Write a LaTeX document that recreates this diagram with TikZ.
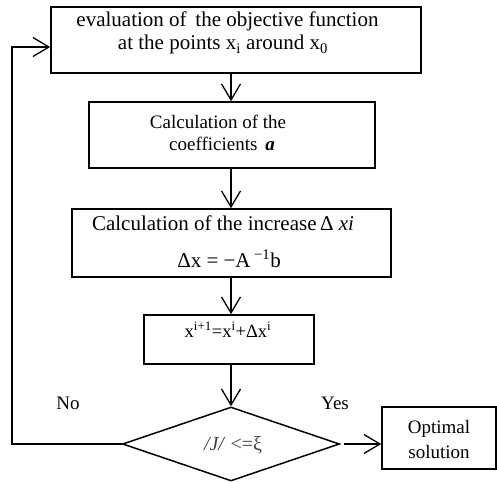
\documentclass[tikz,border=0pt]{standalone}
\usepackage{fontspec}
\setmainfont{Liberation Serif}
\usetikzlibrary{arrows.meta,shapes.geometric}
\begin{document}
\begin{tikzpicture}[x=1pt,y=-1pt,
  box/.style={draw,line width=1.6pt,rectangle,inner sep=0pt},
  arr/.style={line width=1.3pt,-{Straight Barb[length=16pt,width=19pt,line width=1.3pt]}},
  tb/.style={anchor=base,inner sep=0pt,font=\fontsize{21}{23}\selectfont},
  ts/.style={anchor=base,inner sep=0pt,font=\fontsize{19}{22}\selectfont}]
\useasboundingbox (0,0) rectangle (497,481);
% boxes
\node[box,minimum width=370pt,minimum height=66pt] (b1) at (236,40) {};
\node[box,minimum width=286pt,minimum height=66pt] (b2) at (232,135) {};
\node[box,minimum width=319pt,minimum height=68pt] (b3) at (231.5,243) {};
\node[box,minimum width=170pt,minimum height=49pt] (b4) at (229,339.5) {};
\node[draw,line width=1.5pt,diamond,minimum width=217pt,minimum height=74pt,inner sep=0pt,shape aspect=2.93] (d) at (231,444) {};
\node[box,minimum width=114pt,minimum height=62pt] (o) at (439,438) {};
% texts
\node[tb] (t1a) at (227.5,27) {evaluation of\, the objective function};
\node[tb] (t1b) at (223,50) {at the points x\textsubscript{i} around x\textsubscript{0}};
\node[ts] (t2a) at (218,129) {Calculation of the};
\node[ts] (t2b) at (222,150) {coefficients\, \textbf{\textit{a}}};
\node[tb] (t3a) at (223,230) {Calculation of the increase\,Δ \textit{xi}};
\node[tb] (t3b) at (229,267) {Δx = −A\,\textsuperscript{−1}b};
\node[ts,font=\fontsize{18.5}{20}\selectfont] (t4) at (228,337) {x\textsuperscript{i+1}=x\textsuperscript{i}+Δx\textsuperscript{i}};
\node[ts,text=black!75,font=\fontsize{20}{22}\selectfont] (td) at (233,450) {\textit{/J/} <=ξ};
\node[ts] (toa) at (439,433) {Optimal};
\node[ts] (tob) at (439,458) {solution};
\node[ts] (no) at (68,409) {No};
\node[ts] (yes) at (335,409) {Yes};
% connectors
\draw[arr] (b1.south -| d.north) -- (b2.north -| d.north);
\draw[arr] (b2.south -| d.north) -- (b3.north -| d.north);
\draw[arr] (b3.south -| d.north) -- (b4.north -| d.north);
\draw[arr] (b4.south -| d.north) -- (d.north);
\draw[arr] (d.east) ++(4,0) -- (o.west |- d.east);
\coordinate (lc) at (12,47);
\draw[arr] (d.west) -| (lc) -- (lc -| b1.west);
\end{tikzpicture}
\end{document}
